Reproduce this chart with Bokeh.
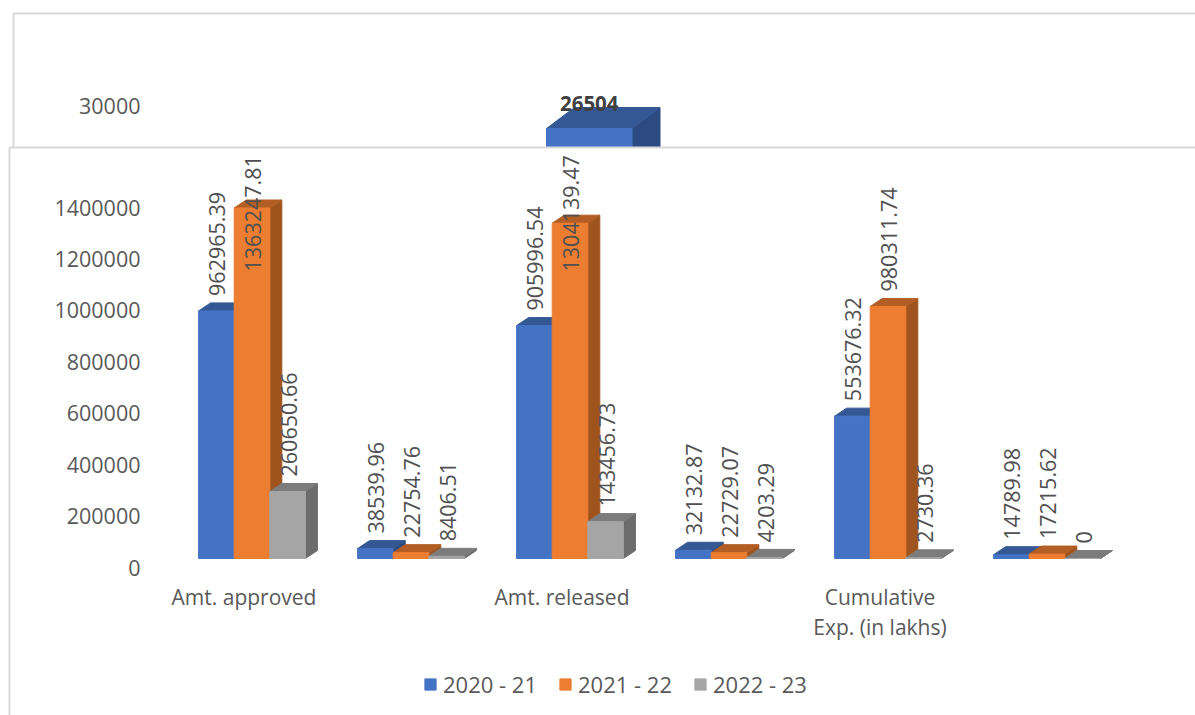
import math
from bokeh.plotting import figure
from bokeh.models import Range1d, LinearAxis, FixedTicker, Legend, LegendItem, BasicTickFormatter
from bokeh.core.properties import value as val
from bokeh.embed import file_html
from bokeh.resources import INLINE

categories = ["Amt. approved", "", "Amt. released", "", "Cumulative", ""]
categories_line2 = ["", "", "", "", "Exp. (in lakhs)", ""]
series_names = ["2020 - 21", "2021 - 22", "2022 - 23"]
v2020 = [962965.39, 38539.96, 905996.54, 32132.87, 553676.32, 14789.98]
v2021 = [1363247.81, 22754.76, 1304139.47, 22729.07, 980311.74, 17215.62]
v2022 = [260650.66, 8406.51, 143456.73, 4203.29, 2730.36, 0]
lbl2020 = ["962965.39", "38539.96", "905996.54", "32132.87", "553676.32", "14789.98"]
lbl2021 = ["1363247.81", "22754.76", "1304139.47", "22729.07", "980311.74", "17215.62"]
lbl2022 = ["260650.66", "8406.51", "143456.73", "4203.29", "2730.36", "0"]
y_ticks = [0, 200000, 400000, 600000, 800000, 1000000, 1200000, 1400000]
upper_tick = [30000]
upper_value = [26504]

front = ["#4472c4", "#ed7d31", "#a5a5a5"]
top = ["#345894", "#b35e24", "#7c7c7c"]
side = ["#2c4b82", "#a0541d", "#6c6c6c"]
TXT = "#595959"
FONT = "Open Sans"

W, H = 1195, 715
S = 0.2571 / 1000        # px per value unit
PITCH = 159.0            # px between groups
X0 = 251.5               # page x of first group centre
BAR = 35.6 / PITCH
DX = 12 / PITCH
DY = 8 / S

def gx(px): return (px - X0) / PITCH
def vy(py): return (558 - py) / S

p = figure(width=W, height=H, output_backend="svg", toolbar_location=None,
           x_axis_type=None, y_axis_type=None, min_border=0,
           x_range=Range1d(gx(0), gx(W)),
           y_range=Range1d(vy(H), vy(0)),
           outline_line_color=None, background_fill_color="white")
# value axis scales: 0 sits 9px below the bar floor
p.extra_y_ranges["axis"] = Range1d(-(H - 567) / S, 567 / S)
U = 0.0065
base_u = 128 + upper_value[0] * U
p.extra_y_ranges["upper"] = Range1d((base_u - H) / U, base_u / U)

BORDER = "#d9d9d9"
# upper panel outline
p.line([gx(13), gx(13), gx(W)], [vy(147), vy(13), vy(13)], line_color=BORDER, line_width=2)

# upper fragment bar
ux0, ux1 = gx(546), gx(631.5)
udx, udy = 28 / PITCH, 21 / U
uv = upper_value[0]
p.patch([ux1, ux1 + udx, ux1 + udx, ux1], [0, udy, uv + udy, uv], color="#2c4b82", y_range_name="upper")
p.patch([ux0, ux1, ux1 + udx, ux0 + udx], [uv, uv, uv + udy, uv + udy], color="#345894", y_range_name="upper")
p.quad(left=ux0, right=ux1, bottom=0, top=uv, color=front[0], y_range_name="upper")
p.text([(ux0 + ux1) / 2], [uv], text=[str(uv)], y_range_name="upper", text_align="center",
       text_baseline="middle", y_offset=-25, text_font=val(FONT), text_font_size="20.5px",
       text_font_style="bold", text_color="#404040")

# lower panel (covers the upper bar)
p.quad(left=gx(9), right=gx(W + 4), bottom=vy(H + 4), top=vy(147),
       fill_color="white", line_color=BORDER, line_width=2)

series = [v2020, v2021, v2022]
labels = [lbl2020, lbl2021, lbl2022]
items = []
for s, (vals, lbls) in enumerate(zip(series, labels)):
    lefts = [i + (s - 1.5) * BAR for i in range(len(vals))]
    rights = [l + BAR for l in lefts]
    p.patches([[r, r + DX, r + DX, r] for r in rights],
              [[0, DY, v + DY, v] for v in vals], color=side[s])
    p.patches([[l, r, r + DX, l + DX] for l, r in zip(lefts, rights)],
              [[v, v, v + DY, v + DY] for v in vals], color=top[s])
    q = p.quad(left=lefts, right=rights, bottom=0, top=vals, color=front[s])
    items.append(LegendItem(label=series_names[s], renderers=[q]))
    centers = [(l + r) / 2 for l, r in zip(lefts, rights)]
    # labels sit above the bar; the tallest are held inside the panel top
    lab_y = [min(v, vy(286)) for v in vals]
    p.text(centers, lab_y, text=lbls, angle=math.pi / 2, text_align="left", text_baseline="middle",
           x_offset=1, y_offset=-15, text_font=val(FONT), text_font_size="21.5px", text_color="#505050")

# value axes
ax = LinearAxis(y_range_name="axis", fixed_location=gx(152),
                ticker=FixedTicker(ticks=y_ticks), formatter=BasicTickFormatter(use_scientific=False))
ax2 = LinearAxis(y_range_name="upper", fixed_location=gx(152),
                 ticker=FixedTicker(ticks=upper_tick), formatter=BasicTickFormatter(use_scientific=False))
for a in (ax, ax2):
    a.axis_line_color = None
    a.major_tick_line_color = None
    a.minor_tick_line_color = None
    a.major_label_standoff = 6
    a.major_label_text_font = FONT
    a.major_label_text_font_size = "21.5px"
    a.major_label_text_color = TXT
    p.add_layout(a, "left")

# category axes
def cat_axis(names, py, shift):
    ticks = [i + shift / PITCH for i, c in enumerate(names) if c]
    xa = LinearAxis(fixed_location=vy(py), ticker=FixedTicker(ticks=ticks),
                    major_label_overrides={t: c for t, c in zip(ticks, [c for c in names if c])})
    xa.axis_line_color = None
    xa.major_tick_line_color = None
    xa.minor_tick_line_color = None
    xa.major_label_standoff = 0
    xa.major_label_text_font = FONT
    xa.major_label_text_font_size = "21px"
    xa.major_label_text_color = TXT
    p.add_layout(xa, "below")

cat_axis(categories, 576, -8)
cat_axis(categories_line2, 606, -8)

leg = Legend(items=items, location=(423, 16), orientation="horizontal", padding=0, margin=0,
             glyph_width=14, glyph_height=14, label_standoff=6, spacing=21,
             label_text_font=FONT, label_text_font_size="22px", label_text_color=TXT,
             border_line_color=None, background_fill_alpha=0)
p.add_layout(leg, "center")

open("out.html", "w").write(file_html(p, INLINE))
